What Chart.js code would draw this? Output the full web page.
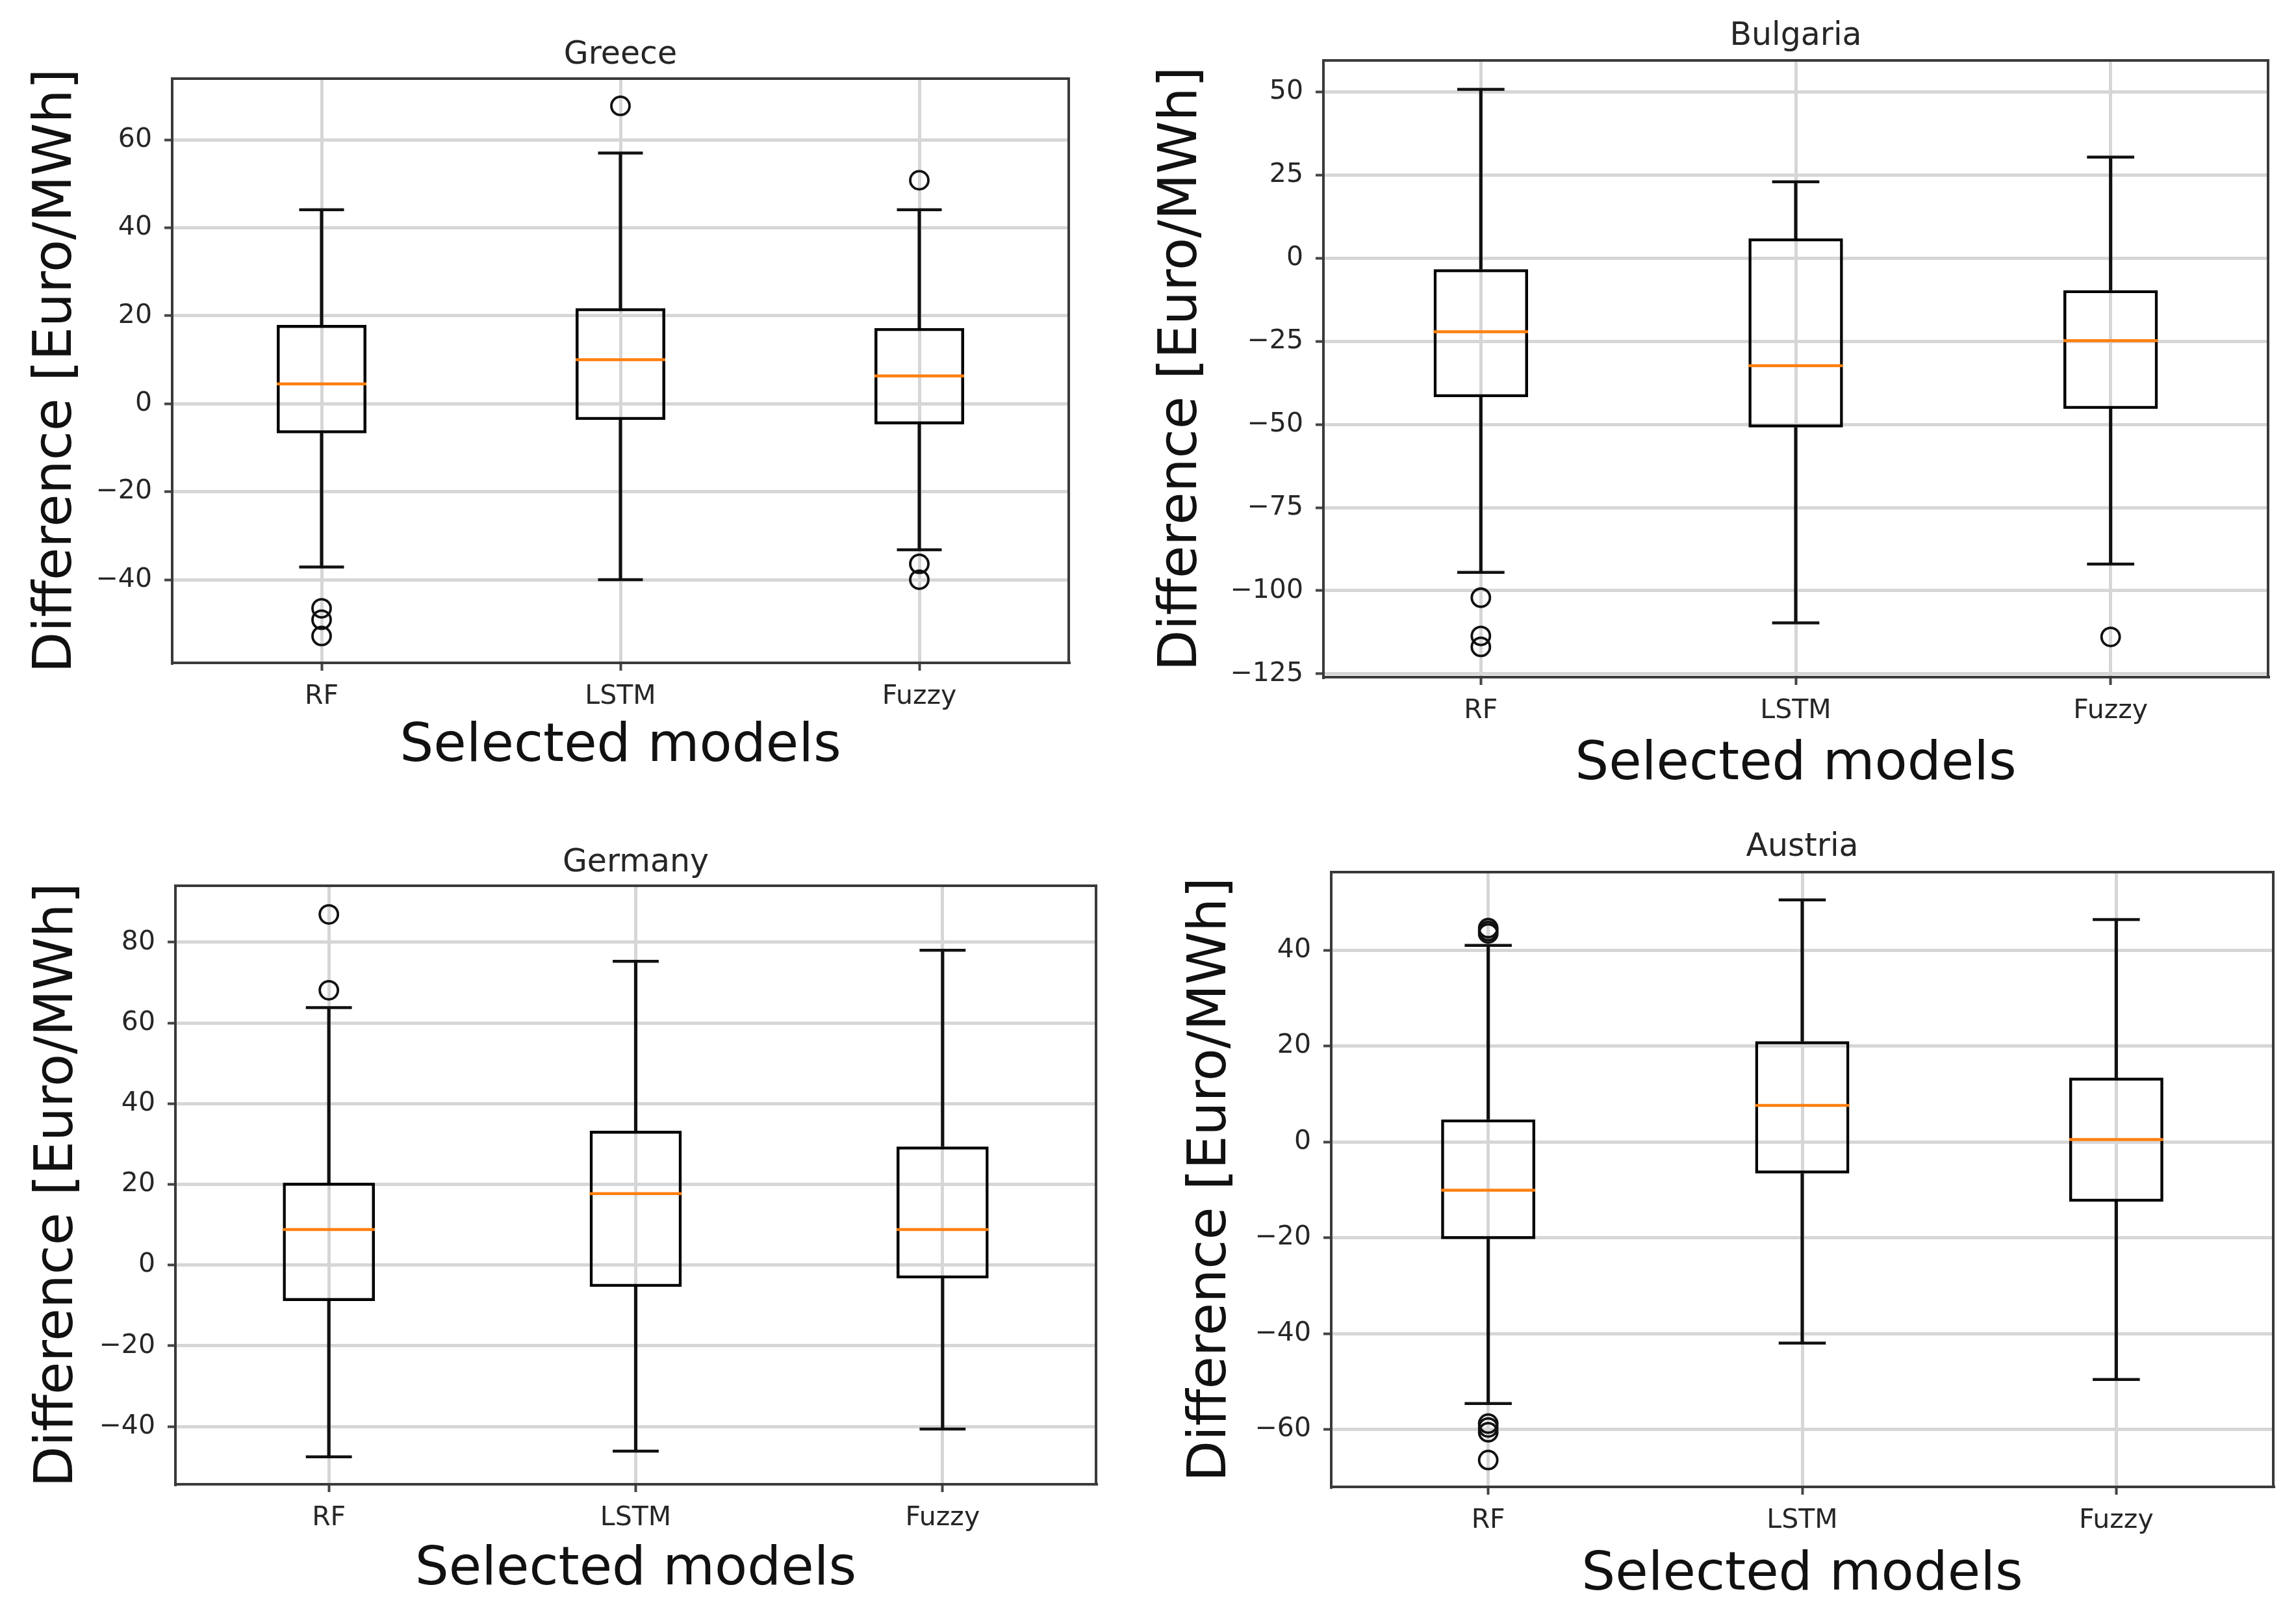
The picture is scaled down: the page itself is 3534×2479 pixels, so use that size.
<!DOCTYPE html>
<html>
<head>
<meta charset="utf-8">
<script src="https://cdn.jsdelivr.net/npm/chart.js@4.4.1/dist/chart.umd.min.js"></script>
<style>
html, body { margin: 0; padding: 0; background: #ffffff; }
body { width: 3534px; height: 2479px; position: relative; overflow: hidden; }
canvas { position: absolute; }
</style>
</head>
<body>
<canvas id="greece"></canvas>
<canvas id="bulgaria"></canvas>
<canvas id="germany"></canvas>
<canvas id="austria"></canvas>
<script>
// ---------------- data ----------------
const models = ['RF', 'LSTM', 'Fuzzy'];
const xLabel = 'Selected models';
const yLabel = 'Difference [Euro/MWh]';

// Greece
const greeceLow      = [-37.1, -40.0, -33.2];
const greeceQ1       = [-6.7, -3.7, -4.7];
const greeceMedian   = [4.5, 10.0, 6.3];
const greeceQ3       = [17.9, 21.7, 17.2];
const greeceHigh     = [44.1, 57.0, 44.1];
const greeceOutliers = [[-46.5, -49.1, -52.8], [67.7], [50.8, -36.4, -40.0]];
const greeceTicks    = [-40, -20, 0, 20, 40, 60];
const greeceLimits   = [-58.9, 73.9];

// Bulgaria
const bulgariaLow      = [-94.5, -109.7, -92.0];
const bulgariaQ1       = [-41.8, -50.9, -45.3];
const bulgariaMedian   = [-22.1, -32.3, -24.8];
const bulgariaQ3       = [-3.3, 6.0, -9.6];
const bulgariaHigh     = [50.8, 23.0, 30.4];
const bulgariaOutliers = [[-102.1, -113.6, -116.9], [], [-113.9]];
const bulgariaTicks    = [-125, -100, -75, -50, -25, 0, 25, 50];
const bulgariaLimits   = [-126.0, 59.5];

// Germany
const germanyLow      = [-47.5, -46.1, -40.6];
const germanyQ1       = [-8.9, -5.4, -3.3];
const germanyMedian   = [8.8, 17.7, 8.8];
const germanyQ3       = [20.4, 33.3, 29.4];
const germanyHigh     = [63.8, 75.3, 78.0];
const germanyOutliers = [[86.9, 68.1], [], []];
const germanyTicks    = [-40, -20, 0, 20, 40, 60, 80];
const germanyLimits   = [-54.3, 94.0];

// Austria
const austriaLow      = [-54.6, -42.0, -49.6];
const austriaQ1       = [-20.3, -6.6, -12.5];
const austriaMedian   = [-10.1, 7.6, 0.5];
const austriaQ3       = [4.7, 21.0, 13.4];
const austriaHigh     = [41.0, 50.5, 46.4];
const austriaOutliers = [[44.6, 44.0, 43.5, -58.8, -59.6, -60.6, -66.4], [], []];
const austriaTicks    = [-60, -40, -20, 0, 20, 40];
const austriaLimits   = [-72.0, 56.3];

// ---------------- layout / style ----------------
const TICK_SIZE = 41;
const TITLE_SIZE = 49;
const LABEL_SIZE = 82;
const BOX_WIDTH = 0.3;     // fraction of category spacing (matplotlib default for 3 boxes)
const CAP_WIDTH = 0.15;
const GRID_COLOR = '#d6d6d6';
const SPINE_COLOR = '#3a3a3a';

const geometry = {
  greece:   { canvas: {l: 0,    t: 0,    w: 1767, h: 1240}, plot: {l: 265,  r: 1645, t: 121,  b: 1020}, titleY: 85,   yTitleX: 88,   xTitleY: 1150 },
  bulgaria: { canvas: {l: 1767, t: 0,    w: 1767, h: 1240}, plot: {l: 2037, r: 3491, t: 93,   b: 1042}, titleY: 56,   yTitleX: 1820, xTitleY: 1178 },
  germany:  { canvas: {l: 0,    t: 1240, w: 1767, h: 1239}, plot: {l: 270,  r: 1687, t: 1363, b: 2284}, titleY: 1328, yTitleX: 90,   xTitleY: 2417 },
  austria:  { canvas: {l: 1767, t: 1240, w: 1767, h: 1239}, plot: {l: 2049, r: 3499, t: 1342, b: 2288}, titleY: 1304, yTitleX: 1865, xTitleY: 2425 }
};

Chart.defaults.font.family = "'DejaVu Sans', sans-serif";
Chart.defaults.color = '#262626';

function halfWidth(frac) {
  return (c) => {
    const xs = c.chart.scales.x;
    return xs && xs.width ? xs.width / models.length * frac / 2 : 0;
  };
}
function fmt(v) { return String(v).replace('-', '\u2212'); }

function buildChart(id, title, low, q1, med, q3, high, outliers, ticks, limits) {
  const geo = geometry[id];
  const cv = document.getElementById(id);
  cv.width = geo.canvas.w; cv.height = geo.canvas.h;
  cv.style.left = geo.canvas.l + 'px'; cv.style.top = geo.canvas.t + 'px';
  const cl = geo.canvas.l, ct = geo.canvas.t;
  const cr = cl + geo.canvas.w, cb = ct + geo.canvas.h;
  const yAxisW = geo.plot.l - cl;
  const xAxisH = cb - geo.plot.b;
  const tLH = TITLE_SIZE * 1.2;
  const lLH = LABEL_SIZE * 1.2;

  const outlierPts = outliers.flatMap((arr, i) => arr.map(v => ({x: models[i], y: v})));

  const datasets = [
    { // medians
      type: 'line', data: med, showLine: false,
      pointStyle: 'line', pointRadius: halfWidth(BOX_WIDTH), pointHoverRadius: halfWidth(BOX_WIDTH),
      pointBorderColor: '#ff7f0e', pointBorderWidth: 4.5, pointHoverBorderWidth: 4.5,
      xAxisID: 'x', yAxisID: 'y'
    },
    { // boxes
      type: 'bar', data: models.map((m, i) => [q1[i], q3[i]]),
      backgroundColor: 'rgba(0,0,0,0)', borderColor: '#000000', borderWidth: 4.5,
      borderSkipped: false, barPercentage: BOX_WIDTH, categoryPercentage: 1, grouped: false,
      xAxisID: 'x', yAxisID: 'y'
    },
    { // upper whiskers
      type: 'bar', data: models.map((m, i) => [q3[i], high[i]]),
      backgroundColor: '#111111', borderWidth: 0, barThickness: 4.5, grouped: false,
      xAxisID: 'x', yAxisID: 'y'
    },
    { // lower whiskers
      type: 'bar', data: models.map((m, i) => [low[i], q1[i]]),
      backgroundColor: '#111111', borderWidth: 0, barThickness: 4.5, grouped: false,
      xAxisID: 'x', yAxisID: 'y'
    },
    { // upper caps
      type: 'line', data: high, showLine: false,
      pointStyle: 'line', pointRadius: halfWidth(CAP_WIDTH), pointHoverRadius: halfWidth(CAP_WIDTH),
      pointBorderColor: '#111111', pointBorderWidth: 4.5, pointHoverBorderWidth: 4.5,
      xAxisID: 'x', yAxisID: 'y'
    },
    { // lower caps
      type: 'line', data: low, showLine: false,
      pointStyle: 'line', pointRadius: halfWidth(CAP_WIDTH), pointHoverRadius: halfWidth(CAP_WIDTH),
      pointBorderColor: '#111111', pointBorderWidth: 4.5, pointHoverBorderWidth: 4.5,
      xAxisID: 'x', yAxisID: 'y'
    },
    { // fliers
      type: 'line', data: outlierPts, showLine: false,
      pointStyle: 'circle', pointRadius: 14, pointHoverRadius: 14,
      pointBackgroundColor: 'rgba(0,0,0,0)', pointBorderColor: '#111111',
      pointBorderWidth: 3.8, pointHoverBorderWidth: 3.8,
      xAxisID: 'x', yAxisID: 'y'
    }
  ];

  return new Chart(cv, {
    type: 'bar',
    data: { labels: models, datasets },
    options: {
      responsive: false, maintainAspectRatio: false, animation: false,
      devicePixelRatio: 1, events: [],
      layout: { padding: { left: 0, top: 0, right: cr - geo.plot.r, bottom: 0 } },
      plugins: {
        legend: { display: false },
        tooltip: { enabled: false },
        title: {
          display: true, text: title, fullSize: false, color: '#262626',
          font: { size: TITLE_SIZE, weight: 'normal', lineHeight: 1.2 },
          padding: { top: geo.titleY - ct - tLH / 2, bottom: geo.plot.t - geo.titleY - tLH / 2 }
        }
      },
      scales: {
        x: {
          type: 'category', position: 'bottom', offset: true,
          grid: { offset: false, color: GRID_COLOR, lineWidth: 5, drawTicks: true,
                  tickLength: 12, tickColor: '#444444', tickWidth: 4 },
          border: { display: true, color: SPINE_COLOR, width: 4 },
          ticks: { font: { size: TICK_SIZE }, color: '#262626', padding: 16, maxRotation: 0, autoSkip: false },
          title: { display: true, text: xLabel, color: '#111111',
                   font: { size: LABEL_SIZE, lineHeight: 1.2 },
                   padding: { top: 0, bottom: cb - geo.xTitleY - lLH / 2 } },
          afterFit: (s) => { s.height = xAxisH; }
        },
        y: {
          type: 'linear', position: 'left', min: limits[0], max: limits[1],
          grid: { color: GRID_COLOR, lineWidth: 5, drawTicks: true,
                  tickLength: 12, tickColor: '#444444', tickWidth: 4 },
          border: { display: true, color: SPINE_COLOR, width: 4 },
          ticks: { font: { size: TICK_SIZE }, color: '#262626', padding: 19,
                   includeBounds: false, callback: (v) => fmt(v) },
          afterBuildTicks: (s) => { s.ticks = ticks.map(v => ({ value: v })); },
          title: { display: true, text: yLabel, color: '#111111',
                   font: { size: LABEL_SIZE, lineHeight: 1.2 },
                   padding: { top: geo.yTitleX - cl - lLH / 2, bottom: 0 } },
          afterFit: (s) => { s.width = yAxisW; }
        },
        x2: {
          type: 'linear', position: 'top',
          ticks: { display: false },
          grid: { drawTicks: false, color: 'rgba(0,0,0,0)' },
          border: { display: true, color: SPINE_COLOR, width: 4 },
          afterFit: (s) => { s.height = 0; }
        },
        y2: {
          type: 'linear', position: 'right',
          ticks: { display: false },
          grid: { drawTicks: false, color: 'rgba(0,0,0,0)' },
          border: { display: true, color: SPINE_COLOR, width: 4 },
          afterFit: (s) => { s.width = 0; }
        }
      }
    }
  });
}

buildChart('greece', 'Greece', greeceLow, greeceQ1, greeceMedian, greeceQ3, greeceHigh, greeceOutliers, greeceTicks, greeceLimits);
buildChart('bulgaria', 'Bulgaria', bulgariaLow, bulgariaQ1, bulgariaMedian, bulgariaQ3, bulgariaHigh, bulgariaOutliers, bulgariaTicks, bulgariaLimits);
buildChart('germany', 'Germany', germanyLow, germanyQ1, germanyMedian, germanyQ3, germanyHigh, germanyOutliers, germanyTicks, germanyLimits);
buildChart('austria', 'Austria', austriaLow, austriaQ1, austriaMedian, austriaQ3, austriaHigh, austriaOutliers, austriaTicks, austriaLimits);
</script>
</body>
</html>
